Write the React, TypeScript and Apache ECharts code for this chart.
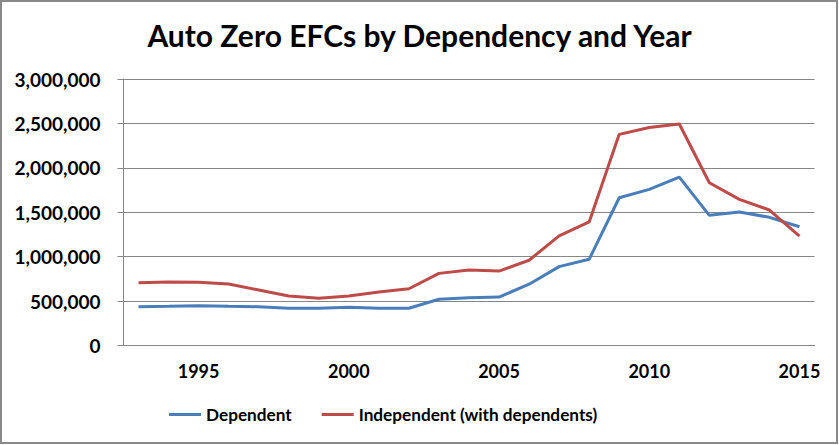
import React, { useEffect, useRef } from "react";
import * as echarts from "echarts";

const years = [
  "1993", "1994", "1995", "1996", "1997", "1998", "1999", "2000", "2001", "2002",
  "2003", "2004", "2005", "2006", "2007", "2008", "2009", "2010", "2011", "2012",
  "2013", "2014", "2015",
];
const dependent = [
  437000, 441000, 448000, 441000, 437000, 418000, 418000, 430000, 418000, 419000,
  520000, 538000, 545000, 690000, 888000, 970000, 1663000, 1758000, 1896000, 1465000,
  1502000, 1443000, 1337000,
];
const independent = [
  707000, 715000, 711000, 692000, 625000, 557000, 531000, 557000, 602000, 639000,
  812000, 850000, 838000, 960000, 1235000, 1391000, 2377000, 2455000, 2493000, 1832000,
  1645000, 1525000, 1232000,
];
const seriesNames = ["Dependent", "Independent (with dependents)"];
const titleText = "Auto Zero EFCs by Dependency and Year";

const fmt = (v: number) => String(Math.round(v)).replace(/\B(?=(\d{3})+(?!\d))/g, ",");

export default function App() {
  const ref = useRef<HTMLDivElement>(null);
  useEffect(() => {
    if (!ref.current) return;
    const chart = echarts.init(ref.current, undefined, { renderer: "svg" });
    const font = "Lato, 'Open Sans', sans-serif";
    chart.setOption({
      animation: false,
      backgroundColor: "#ffffff",
      title: {
        text: titleText,
        left: "center",
        top: 15,
        textStyle: { fontFamily: font, fontWeight: "bold", fontSize: 30, color: "#000" },
      },
      graphic: [
        {
          type: "rect",
          shape: { x: 1, y: 1, width: 836, height: 442 },
          style: { fill: "none", stroke: "#898989", lineWidth: 2 },
          silent: true,
        },
      ],
      legend: {
        left: 164,
        top: 401,
        itemWidth: 32,
        itemHeight: 3,
        itemGap: 30,
        icon: "rect",
        data: seriesNames,
        textStyle: { fontFamily: font, fontWeight: "bold", fontSize: 17.2, color: "#000" },
      },
      grid: { left: 123.5, right: 24.5, top: 79, bottom: 99.5, containLabel: false },
      xAxis: {
        type: "category",
        data: years,
        boundaryGap: true,
        axisLine: { lineStyle: { color: "#868686", width: 1 } },
        axisTick: { interval: 0, length: 6, lineStyle: { color: "#868686" } },
        axisLabel: {
          interval: (idx: number) => (idx - 2) % 5 === 0,
          margin: 16,
          fontFamily: font,
          fontWeight: "bold",
          fontSize: 18,
          color: "#000",
        },
        splitLine: { show: false },
      },
      yAxis: {
        type: "value",
        min: 0,
        max: 3000000,
        interval: 500000,
        axisLine: { show: true, lineStyle: { color: "#868686", width: 1 } },
        axisTick: { show: true, length: 6, lineStyle: { color: "#868686" } },
        axisLabel: {
          formatter: (v: number) => fmt(v),
          margin: 23,
          fontFamily: font,
          fontWeight: "bold",
          fontSize: 19,
          color: "#000",
        },
        splitLine: { lineStyle: { color: "#868686", width: 1 } },
      },
      series: [
        {
          name: seriesNames[0],
          type: "line",
          data: dependent,
          symbol: "none",
          lineStyle: { color: "#4A7EBB", width: 3 },
          itemStyle: { color: "#4A7EBB" },
        },
        {
          name: seriesNames[1],
          type: "line",
          data: independent,
          symbol: "none",
          lineStyle: { color: "#BE4B48", width: 3 },
          itemStyle: { color: "#BE4B48" },
        },
      ],
    });
    return () => chart.dispose();
  }, []);
  return (
    <div
      ref={ref}
      style={{ position: "absolute", left: 0, top: 0, width: 839, height: 445 }}
    />
  );
}
